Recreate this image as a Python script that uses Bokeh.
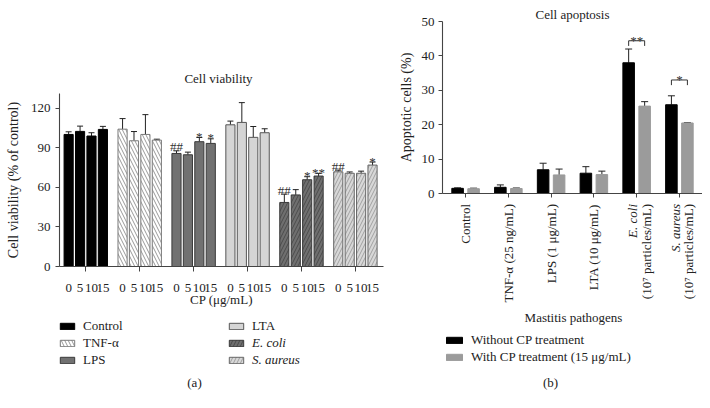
import math
import numpy as np
from bokeh.plotting import figure
from bokeh.layouts import row, column
from bokeh.models import (ColumnDataSource, FixedTicker, Whisker, TeeHead, Label,
                          Legend, LegendItem, Range1d)
from bokeh.core.properties import value
from bokeh.embed import file_html
from bokeh.resources import INLINE

FONT = "Liberation Serif"

# ---------------- Panel (a): cell viability ----------------
groups_a = ["Control", "TNF-α", "LPS", "LTA", "E. coli", "S. aureus"]
group_italic = [False, False, False, False, True, True]
doses = ["0", "5", "10", "15"]
viability = [
    [100.0, 102.3, 98.8, 103.8],
    [104.0, 95.2, 100.0, 95.7],
    [85.6, 84.6, 94.5, 93.2],
    [107.3, 109.1, 97.8, 101.3],
    [48.5, 54.2, 65.7, 68.5],
    [71.7, 70.6, 70.6, 76.8],
]
viability_err = [
    [2.0, 4.0, 2.5, 2.3],
    [8.0, 7.0, 15.0, 0.7],
    [2.0, 2.0, 3.2, 3.5],
    [2.8, 15.0, 8.2, 3.0],
    [6.3, 4.0, 2.3, 2.0],
    [1.3, 1.0, 1.6, 2.3],
]
viability_marks = [
    ["", "", "", ""],
    ["", "", "", ""],
    ["##", "", "*", "*"],
    ["", "", "", ""],
    ["##", "", "*", "**"],
    ["##", "", "", "*"],
]

# ---------------- Panel (b): cell apoptosis ----------------
pathogen_line1 = ["Control", "TNF-α (25 ng/mL)", "LPS (1 μg/mL)", "LTA (10 μg/mL)", "E. coli", "S. aureus"]
pathogen_line2 = ["", "", "", "", "(10⁷ particles/mL)", "(10⁷ particles/mL)"]
pathogen_italic = [False, False, False, False, True, True]
series_b = ["Without CP treatment", "With CP treatment (15 μg/mL)"]
without_cp = [1.5, 1.8, 6.9, 5.9, 38.0, 25.8]
without_err = [0.15, 0.7, 1.9, 1.9, 4.0, 2.6]
with_cp = [1.4, 1.45, 5.4, 5.5, 25.4, 20.5]
with_err = [0.15, 0.15, 1.7, 1.0, 1.3, 0.1]
bracket_idx = [4, 5]
bracket_y = [44.4, 33.0]
bracket_mark = ["**", "*"]

# ---------------- styles ----------------
styles_a = [
    dict(fill_color="black", line_color="black"),
    dict(fill_color="white", line_color="#7a7a7a", hatch_pattern="left_diagonal_line",
         hatch_color="#8c8c8c", hatch_scale=7, hatch_weight=0.9),
    dict(fill_color="#717171", line_color="#3a3a3a"),
    dict(fill_color="#d5d5d5", line_color="#555555"),
    dict(fill_color="#6f6f6f", line_color="#3a3a3a", hatch_pattern="right_diagonal_line",
         hatch_color="#474747", hatch_scale=7, hatch_weight=0.9),
    dict(fill_color="#d8d8d8", line_color="#666666", hatch_pattern="right_diagonal_line",
         hatch_color="#9a9a9a", hatch_scale=7, hatch_weight=0.9),
]
styles_b = [dict(fill_color="black", line_color="black"),
            dict(fill_color="#9b9b9b", line_color="#9b9b9b")]
AX = "#444444"
TXT = "#222222"


def style_axis(ax, size="13px"):
    ax.axis_line_color = AX
    ax.axis_line_width = 1.1
    ax.major_tick_line_color = AX
    ax.minor_tick_line_color = AX
    ax.major_label_text_font = FONT
    ax.major_label_text_font_size = size
    ax.major_label_text_color = TXT
    ax.axis_label_text_font = FONT
    ax.axis_label_text_font_style = "normal"
    ax.axis_label_text_color = TXT


def blank_fig(width, height, x_range=None, left=0, right=0):
    f = figure(width=width, height=height, x_range=x_range if x_range is not None else Range1d(0, 1),
               y_range=Range1d(0, height), x_axis_location=None, y_axis_location=None,
               output_backend="svg", toolbar_location=None,
               min_border_left=left, min_border_right=right, min_border_top=0, min_border_bottom=0)
    f.frame_align = False
    f.outline_line_color = None
    f.xgrid.visible = False
    f.ygrid.visible = False
    return f


def txt(text, x, y, size="13px", style="normal", align="center", baseline="middle", angle=0.0,
        x_units="screen", x_offset=0):
    return Label(x=x, y=y, x_units=x_units, y_units="screen", text=text, angle=angle,
                 x_offset=x_offset, text_font=FONT, text_font_size=size, text_font_style=style,
                 text_align=align, text_baseline=baseline, text_color=TXT)


def make_legend(items, loc, italic=False, gw=18, gh=8):
    lg = Legend(items=items, location=loc, orientation="vertical")
    lg.border_line_color = None
    lg.background_fill_alpha = 0
    lg.padding = 0
    lg.margin = 0
    lg.spacing = 1
    lg.glyph_width = gw
    lg.glyph_height = gh
    lg.label_standoff = 7
    lg.label_height = 15
    lg.label_text_font = FONT
    lg.label_text_font_size = "13px"
    lg.label_text_color = TXT
    lg.label_text_font_style = "italic" if italic else "normal"
    return lg


def swatch(fig, style):
    # legend-only renderer: one undefined bar, nothing is drawn in the frame
    src = ColumnDataSource(dict(x=np.array([0.5]), top=np.array([np.nan])))
    return fig.vbar(x="x", top="top", width=0.1, source=src, **style)


# ======================= Panel (a) =======================
BP = 25      # bar pitch
GP = 118     # group pitch
BW = 20      # bar width
W1 = 393

head1 = blank_fig(W1, 86)
head1.add_layout(txt("Cell viability", 218, 8))

p1 = figure(width=W1, height=230, x_range=Range1d(-20, 689), y_range=Range1d(0, 131),
            output_backend="svg", toolbar_location=None,
            min_border_left=59, min_border_right=10, min_border_top=7, min_border_bottom=50)
p1.frame_align = False
p1.outline_line_color = None
p1.grid.visible = False

bar_x_all, bar_lab_all = [], []
for g, name in enumerate(groups_a):
    xs = [g * GP + i * BP for i in range(4)]
    bar_x_all += xs
    bar_lab_all += doses
    src = ColumnDataSource(dict(x=xs, top=viability[g],
                                upper=[v + e for v, e in zip(viability[g], viability_err[g])]))
    p1.vbar(x="x", top="top", width=BW, source=src, line_width=1, **styles_a[g])
    p1.add_layout(Whisker(source=src, base="x", lower="top", upper="upper", dimension="height",
                          line_color="#222222", line_width=1, lower_head=None,
                          upper_head=TeeHead(size=6, line_color="#222222", line_width=1)))

group_centers = [g * GP + 1.5 * BP for g in range(len(groups_a))]

hx, hy, ht, sx, sy, st = [], [], [], [], [], []
for g in range(len(groups_a)):
    for i in range(4):
        m = viability_marks[g][i]
        if not m:
            continue
        top = viability[g][i] + viability_err[g][i]
        if "#" in m:
            hx.append(g * GP + i * BP); hy.append(top); ht.append(m)
        else:
            sx.append(g * GP + i * BP); sy.append(top); st.append(m)
p1.text(x=hx, y=hy, text=ht, text_font=value(FONT), text_font_size="13px", text_color="#333333",
        text_align="center", text_baseline="alphabetic", y_offset=-4)
p1.text(x=sx, y=sy, text=st, text_font=value(FONT), text_font_size="13px", text_color="#333333",
        text_align="center", text_baseline="alphabetic", y_offset=-1)

ya = p1.yaxis[0]
style_axis(ya)
ya.ticker = FixedTicker(ticks=[0, 30, 60, 90, 120])
ya.axis_label = "Cell viability (% of control)"
ya.axis_label_text_font_size = "14px"
ya.axis_label_standoff = 7
ya.major_label_standoff = 5
ya.major_tick_out = 4
ya.major_tick_in = 0

xa = p1.xaxis[0]
style_axis(xa)
xa.ticker = FixedTicker(ticks=bar_x_all, minor_ticks=group_centers)
xa.major_label_overrides = {x: l for x, l in zip(bar_x_all, bar_lab_all)}
xa.major_tick_out = 0
xa.major_tick_in = 0
xa.minor_tick_out = 5
xa.minor_tick_in = 0
xa.major_label_standoff = 12
xa.axis_label = "CP (μg/mL)"
xa.axis_label_text_font_size = "13px"
xa.axis_label_standoff = -3

foot1 = blank_fig(W1, 84)
leg_r = [swatch(foot1, styles_a[g]) for g in range(len(groups_a))]
foot1.add_layout(make_legend([LegendItem(label=groups_a[g], renderers=[leg_r[g]]) for g in range(3)],
                             (58, 32)))
foot1.add_layout(make_legend([LegendItem(label=groups_a[3], renderers=[leg_r[3]])], (227, 66)))
foot1.add_layout(make_legend([LegendItem(label=groups_a[g], renderers=[leg_r[g]]) for g in (4, 5)],
                             (227, 32), italic=True))
foot1.add_layout(txt("(a)", 194, 18))

# ======================= Panel (b) =======================
OFF = 0.187
BW2 = 0.27
W2 = 309
xr2 = Range1d(-0.54, 5.54)

p2 = figure(width=W2, height=203, x_range=xr2, y_range=Range1d(0, 50),
            output_backend="svg", toolbar_location=None,
            min_border_left=49, min_border_right=0, min_border_top=21, min_border_bottom=10)
p2.frame_align = False
p2.outline_line_color = None
p2.grid.visible = False
p2.title.text = "Cell apoptosis"
p2.title.align = "center"
p2.title.text_font = FONT
p2.title.text_font_size = "13px"
p2.title.text_font_style = "normal"
p2.title.text_color = TXT
p2.title.standoff = 0

cats = list(range(len(pathogen_line1)))
vals_b = [without_cp, with_cp]
errs_b = [without_err, with_err]
for j, sgn in enumerate((-1, 1)):
    s = ColumnDataSource(dict(x=[c + sgn * OFF for c in cats], top=vals_b[j],
                              upper=[v + e for v, e in zip(vals_b[j], errs_b[j])]))
    p2.vbar(x="x", top="top", width=BW2, source=s, **styles_b[j])
    p2.add_layout(Whisker(source=s, base="x", lower="top", upper="upper", dimension="height",
                          line_color="#222222", line_width=1, lower_head=None,
                          upper_head=TeeHead(size=7, line_color="#222222", line_width=1)))

bxs, bys = [], []
for k, yb in zip(bracket_idx, bracket_y):
    bxs.append([k - OFF, k - OFF, k + OFF, k + OFF])
    bys.append([yb - 1.5, yb, yb, yb - 1.5])
p2.multi_line(xs=bxs, ys=bys, line_color="#333333", line_width=1)
p2.text(x=bracket_idx, y=bracket_y, text=bracket_mark, text_font=value(FONT), text_font_size="13px",
        text_color="#333333", text_align="center", text_baseline="alphabetic", y_offset=0)

yb_ax = p2.yaxis[0]
style_axis(yb_ax)
yb_ax.ticker = FixedTicker(ticks=[0, 10, 20, 30, 40, 50])
yb_ax.major_label_standoff = 4
yb_ax.major_tick_out = 4
yb_ax.major_tick_in = 0
yb_ax.axis_label = "Apoptotic cells (%)"
yb_ax.axis_label_text_font_size = "14px"
yb_ax.axis_label_standoff = 5

xb_ax = p2.xaxis[0]
style_axis(xb_ax, size="1px")
xb_ax.ticker = FixedTicker(ticks=cats)
xb_ax.major_label_overrides = {k: "" for k in cats}
xb_ax.major_label_standoff = 0
xb_ax.major_tick_out = 4
xb_ax.major_tick_in = 0

FH2 = 197
foot2 = blank_fig(W2, FH2, x_range=xr2, left=49, right=0)
for k in cats:
    two = bool(pathogen_line2[k])
    foot2.add_layout(txt(pathogen_line1[k], k, FH2 - 0.5, x_units="data", angle=math.pi / 2,
                         align="right", style="italic" if pathogen_italic[k] else "normal",
                         x_offset=-4 if two else 0))
    if two:
        foot2.add_layout(txt(pathogen_line2[k], k, FH2 - 0.5, x_units="data", angle=math.pi / 2,
                             align="right", x_offset=9.5))
foot2.add_layout(txt("Mastitis pathogens", 131, 83))
legb_r = [swatch(foot2, styles_b[j]) for j in range(2)]
foot2.add_layout(make_legend([LegendItem(label=series_b[j], renderers=[legb_r[j]]) for j in range(2)],
                             (2, 35), gw=20, gh=8))
foot2.add_layout(txt("(b)", 108, 18))

layout = row(column(head1, p1, foot1), column(p2, foot2))
open("out.html", "w").write(file_html(layout, INLINE))
